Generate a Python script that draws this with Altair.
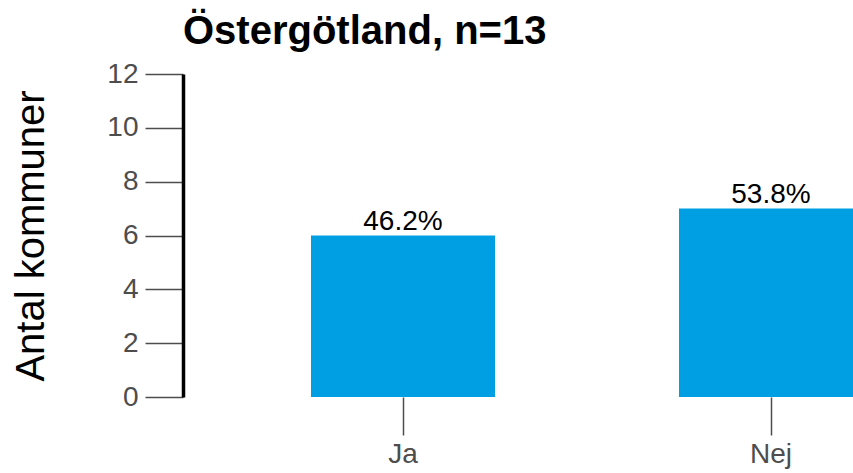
import altair as alt
import pandas as pd

categories = ["Ja", "Nej"]
counts = [6, 7]
labels = ["46.2%", "53.8%"]

df = pd.DataFrame({"svar": categories, "antal": counts, "andel": labels})

FONT = "Liberation Sans"
GRAY = "#4D4D4D"

x_enc = alt.X(
    "svar:N",
    sort=categories,
    scale=alt.Scale(range=[36, 772], paddingInner=0.5, paddingOuter=0.25),
    axis=alt.Axis(
        title=None, domain=False, grid=False, labelAngle=0, tickSize=38, tickWidth=1.5,
        tickColor=GRAY, labelColor=GRAY, labelFontSize=28, labelFont=FONT,
        labelPadding=5,
    ),
)
y_enc = alt.Y(
    "antal:Q",
    scale=alt.Scale(domain=[0, 12]),
    axis=alt.Axis(
        title="Antal kommuner", values=[0, 2, 4, 6, 8, 10, 12], grid=False,
        domainColor="black", domainWidth=3.5, tickSize=38, tickWidth=1.5,
        tickColor=GRAY, labelColor=GRAY, labelFontSize=28, labelFont=FONT,
        labelPadding=7, titleFontSize=40, titleFont=FONT, titleFontWeight="normal",
        titleColor="black", titleX=-140, titleY=161.5, titleBaseline="alphabetic",
    ),
)

bars = alt.Chart(df).mark_bar(color="#009FE3", clip=True).encode(x=x_enc, y=y_enc)
text = alt.Chart(df).mark_text(
    baseline="alphabetic", dy=-6, fontSize=28, font=FONT, color="black", clip=True
).encode(x=x_enc, y=y_enc, text="andel:N")

chart = (
    (bars + text)
    .properties(
        width=670,
        height=323,
        background="white",
        autosize=alt.AutoSizeParams(type="none"),
        padding={"left": 183, "top": 74, "right": 0, "bottom": 76},
        title=alt.TitleParams(
            "Östergötland, n=13", anchor="start", frame="group", fontSize=40,
            fontWeight="bold", font=FONT, color="black", offset=25, dy=49,
            baseline="alphabetic",
        ),
    )
    .configure_view(stroke="transparent", strokeWidth=0)
    .configure_axis(grid=False)
)

chart.save("out.html", embed_options={"renderer": "svg", "actions": False})
